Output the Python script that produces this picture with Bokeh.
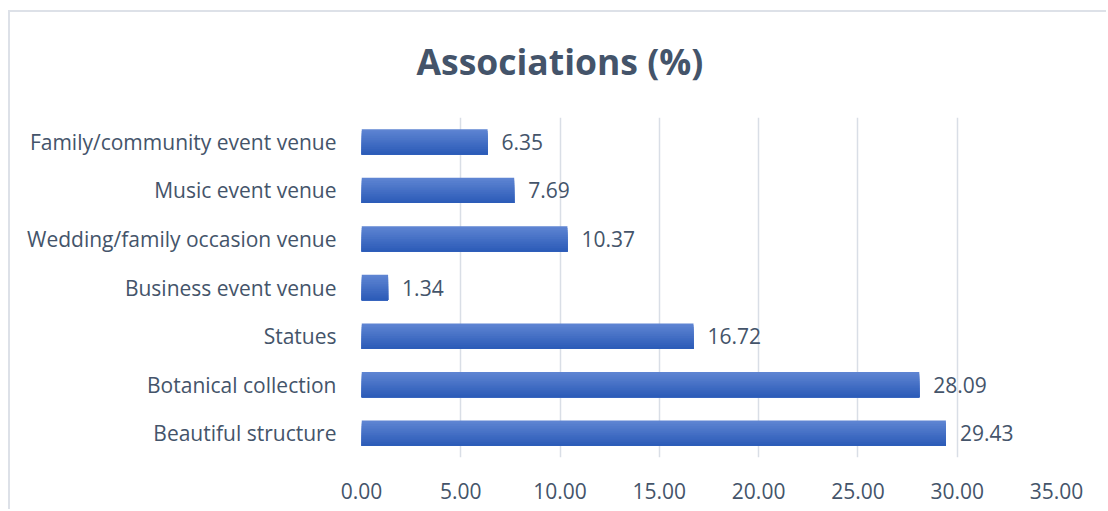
from bokeh.plotting import figure
from bokeh.models import FactorRange, Range1d, FixedTicker, NumeralTickFormatter, ColumnDataSource
from bokeh.transform import dodge
from bokeh.core.properties import value
from bokeh.embed import file_html
from bokeh.resources import INLINE

categories = ["Beautiful structure", "Botanical collection", "Statues",
              "Business event venue", "Wedding/family occasion venue",
              "Music event venue", "Family/community event venue"]
values = [29.43, 28.09, 16.72, 1.34, 10.37, 7.69, 6.35]
x_ticks = [0, 5, 10, 15, 20, 25, 30, 35]
title_text = "Associations (%)"

FONT = "Open Sans"
TXT = "#44546A"
GRID = "#D9DEE6"
BORDER = "#DDE1E8"
FS = "21px"

src = ColumnDataSource(dict(cat=categories, val=values,
                            lab=["%.2f" % v for v in values]))

p = figure(width=1106, height=509, output_backend="svg", toolbar_location=None,
           y_range=FactorRange(factors=categories), x_range=Range1d(0, 35),
           min_border_left=361, min_border_right=50, min_border_top=117,
           min_border_bottom=52, title=title_text)
p.margin = (0, 0, 0, 0)
p.outline_line_color = None
p.background_fill_color = None
p.border_fill_color = None
# chart-area border (top and left edges), drawn behind the transparent canvas
p.styles = {"background": (
    f"linear-gradient({BORDER},{BORDER}) 8px 10px / calc(100% - 8px) 2px no-repeat, "
    f"linear-gradient({BORDER},{BORDER}) 8px 10px / 2px calc(100% - 10px) no-repeat, "
    "#ffffff")}

# gradient bars: overlapping layers, each reaching the bar bottom
N = 14
bar_h = 0.52
step = bar_h / N
top_c = (0x5E, 0x84, 0xD2)
bot_c = (0x2C, 0x5C, 0xB8)
for i in range(N):
    t = i / (N - 1)
    c = tuple(int(round(top_c[k] + (bot_c[k] - top_c[k]) * t)) for k in range(3))
    color = "#%02x%02x%02x" % c
    top = bar_h / 2 - step * i
    bottom = -bar_h / 2
    p.hbar(y=dodge("cat", (top + bottom) / 2, range=p.y_range), right="val", left=0,
           height=top - bottom, source=src, fill_color=color, line_color=None)

p.text(x="val", y="cat", text="lab", source=src, x_offset=14,
       text_baseline="middle", text_align="left", text_color=TXT,
       text_font=value(FONT), text_font_size=FS)

p.xaxis.ticker = FixedTicker(ticks=x_ticks)
p.xaxis.formatter = NumeralTickFormatter(format="0.00")
for ax in (p.xaxis[0], p.yaxis[0]):
    ax.axis_line_color = None
    ax.major_tick_line_color = None
    ax.minor_tick_line_color = None
    ax.major_label_text_font = FONT
    ax.major_label_text_font_size = FS
    ax.major_label_text_color = TXT
p.xaxis.major_label_standoff = 19
p.yaxis.major_label_standoff = 19

p.xgrid.grid_line_color = GRID
p.xgrid.grid_line_width = 1.5
p.ygrid.grid_line_color = None

p.title.align = "left"
p.title.offset = 55
p.title.standoff = 66
p.title.text_font = FONT
p.title.text_font_size = "35.5px"
p.title.text_font_style = "bold"
p.title.text_color = TXT

open("out.html", "w").write(file_html(p, INLINE))
